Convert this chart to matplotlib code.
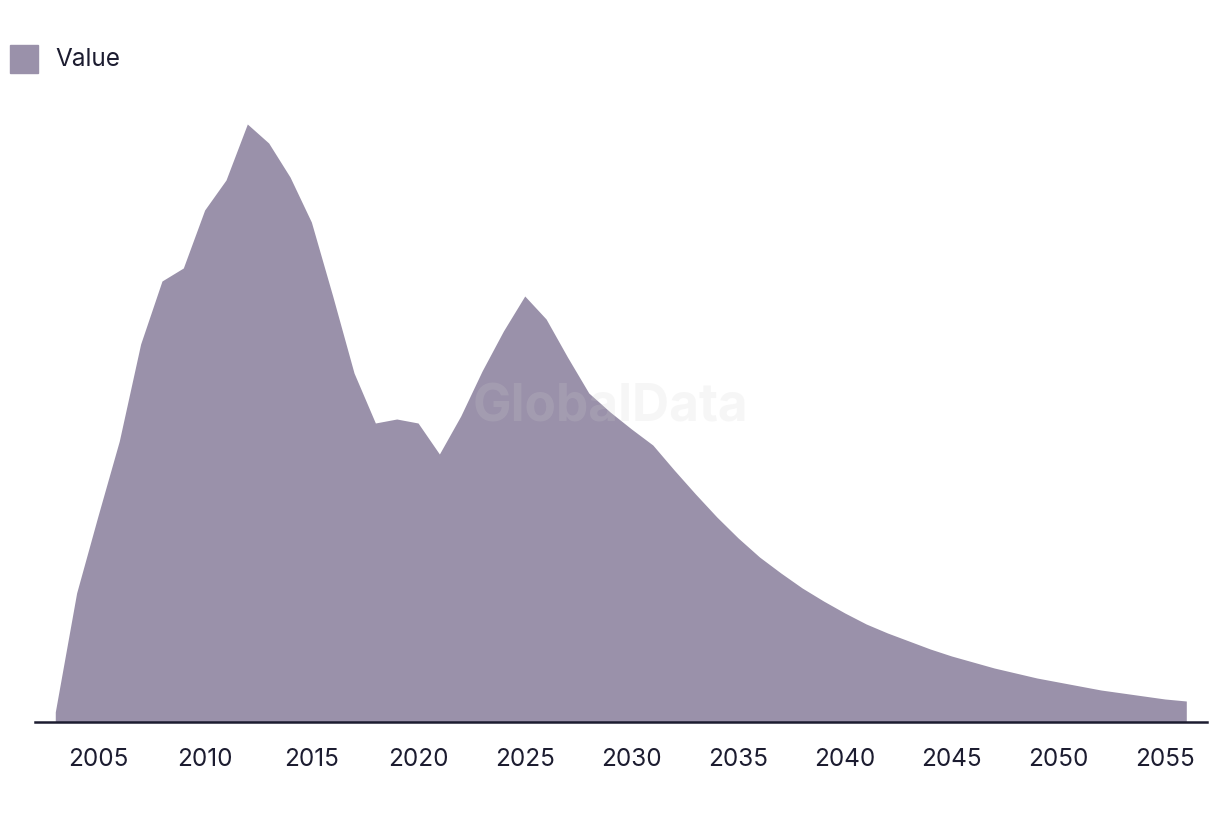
import matplotlib
matplotlib.use('Agg')
import matplotlib.pyplot as plt
from matplotlib.patches import Rectangle

matplotlib.rcParams['font.family'] = ['Inter', 'DejaVu Sans']

# 数据（从图上读出，单位任意）
years = list(range(2003, 2057))
values = [10, 129, 206, 281, 378, 441, 454, 512, 542, 598,
          579, 545, 500, 426, 349, 299, 303, 299, 268, 306,
          351, 391, 426, 403, 365, 329, 310, 293, 277, 252,
          228, 205, 184, 165, 149, 134, 121, 109, 98, 89,
          81, 73, 66, 60, 54, 49, 44, 40, 36, 32,
          29, 26, 23, 21]
tick_years = list(range(2005, 2056, 5))

fill_color = '#9a91aa'
text_color = '#1c1c30'

fig = plt.figure(figsize=(12.2, 8.14), dpi=100)
ax = fig.add_axes([35/1220, 1 - 722/814, (1207-35)/1220, (722-100)/814])

ax.fill_between(years, values, 0, color=fill_color, linewidth=0)
ax.set_xlim(2002.05, 2056.97)
ax.set_ylim(0, 622)

for s in ['top', 'right', 'left']:
    ax.spines[s].set_visible(False)
ax.spines['bottom'].set_color(text_color)
ax.spines['bottom'].set_linewidth(1.8)
ax.set_yticks([])
ax.set_xticks(tick_years)
ax.set_xticklabels([str(t) for t in tick_years])
ax.tick_params(axis='x', length=0, pad=19, labelsize=17.5, labelcolor=text_color)

# 水印
fig.text(610/1220, 1 - 408/814, 'GlobalData', ha='center', va='center',
         fontsize=37, fontweight='bold', color='#d0d0d0', alpha=0.18)

# 图例
fig.patches.append(Rectangle((10/1220, 1 - 73/814), 28/1220, 28/814,
                             transform=fig.transFigure, color=fill_color))
fig.text(55/1220, 1 - 59/814, 'Value', ha='left', va='center',
         fontsize=17.5, color=text_color)

fig.savefig('out.png', dpi=100)
